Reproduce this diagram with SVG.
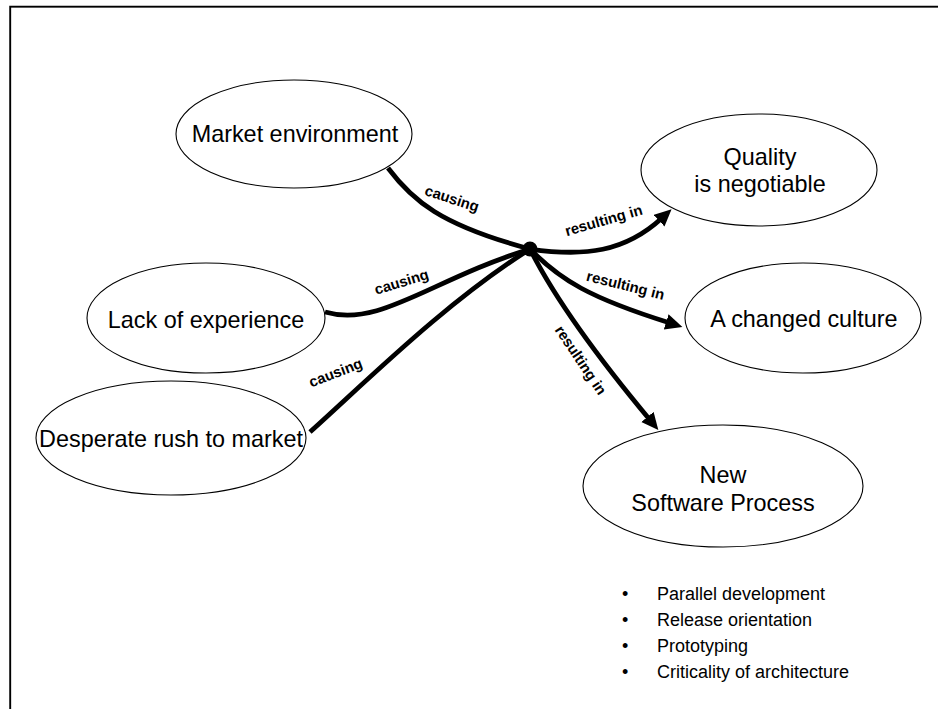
<svg xmlns="http://www.w3.org/2000/svg" width="938" height="709" viewBox="0 0 938 709">
<defs>
<marker id="arr" markerUnits="userSpaceOnUse" markerWidth="20" markerHeight="18" refX="4" refY="8" orient="auto">
<path d="M0,0 L17,8 L0,16 z" fill="#000"/>
</marker>
<style>
.node ellipse{fill:#fff;stroke:#000;stroke-width:1.1}
.node text{font-family:"Liberation Sans",Arial,sans-serif;font-size:23.4px;fill:#000;text-anchor:middle}
.con path{fill:none;stroke:#000;stroke-width:4.8}
.lbl{font-family:"Liberation Sans",Arial,sans-serif;font-size:14.8px;font-weight:bold;fill:#000;text-anchor:middle}
.bul{font-family:"Liberation Sans",Arial,sans-serif;font-size:18px;fill:#000}
</style>
</defs>
<rect x="0" y="0" width="938" height="709" fill="#fff"/>
<rect x="10.2" y="6.7" width="1000" height="1000" fill="none" stroke="#000" stroke-width="1.9"/>

<g id="connectors" class="con">
<path d="M388,168 C412,200 440,225 530,249"/>
<path d="M325,312 C380,328 430,280 530,249"/>
<path d="M310,432 C370,378 445,303 530,249"/>
<path d="M530,249 C585,257 625,252 662,218" marker-end="url(#arr)"/>
<path d="M530,249 C560,280 590,298 670,323" marker-end="url(#arr)"/>
<path d="M530,249 C558,305 610,372 650,420" marker-end="url(#arr)"/>
<circle cx="530" cy="249" r="7.5" fill="#000"/>
<text class="lbl" transform="translate(450.4,203.4) rotate(18)">causing</text>
<text class="lbl" transform="translate(403,286.7) rotate(-17)">causing</text>
<text class="lbl" transform="translate(337.4,377.4) rotate(-21)">causing</text>
<text class="lbl" transform="translate(605,225.2) rotate(-16)">resulting in</text>
<text class="lbl" transform="translate(624.3,290.2) rotate(14)">resulting in</text>
<text class="lbl" transform="translate(576.5,363) rotate(56)">resulting in</text>
</g>

<g id="market" class="node">
<ellipse cx="294" cy="134" rx="118" ry="54"/>
<text x="295" y="142">Market environment</text>
</g>
<g id="lack" class="node">
<ellipse cx="206" cy="318" rx="119" ry="55"/>
<text x="206" y="328">Lack of experience</text>
</g>
<g id="desperate" class="node">
<ellipse cx="171" cy="438" rx="135" ry="57"/>
<text x="171" y="447">Desperate rush to market</text>
</g>
<g id="quality" class="node">
<ellipse cx="759" cy="170" rx="118" ry="56"/>
<text x="760" y="165">Quality</text>
<text x="760" y="192">is negotiable</text>
</g>
<g id="culture" class="node">
<ellipse cx="803" cy="318" rx="118" ry="55"/>
<text x="804" y="327">A changed culture</text>
</g>
<g id="newprocess" class="node">
<ellipse cx="723" cy="486" rx="140" ry="61"/>
<text x="723" y="483">New</text>
<text x="723" y="511">Software Process</text>
</g>

<g id="bullets" class="bul">
<text x="622" y="600">•</text><text x="657" y="600">Parallel development</text>
<text x="622" y="626">•</text><text x="657" y="626">Release orientation</text>
<text x="622" y="652">•</text><text x="657" y="652">Prototyping</text>
<text x="622" y="678">•</text><text x="657" y="678">Criticality of architecture</text>
</g>
</svg>
